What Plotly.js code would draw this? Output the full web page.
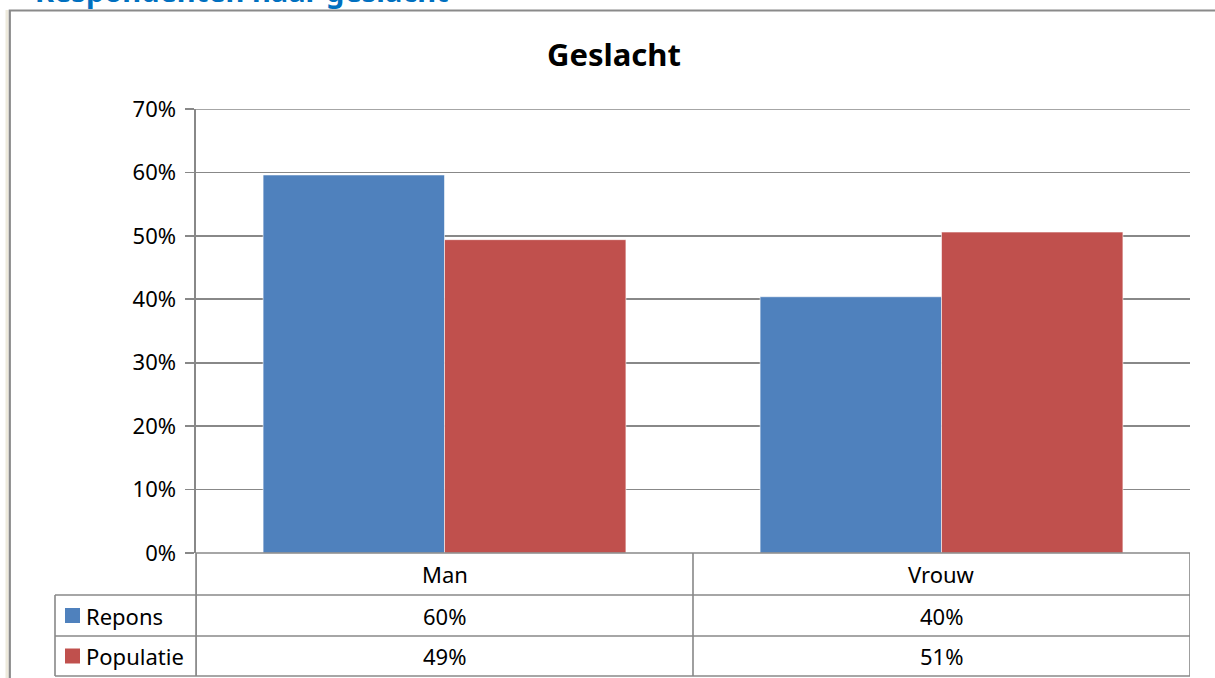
<!DOCTYPE html>
<html><head><meta charset="utf-8">
<script src="https://cdn.plot.ly/plotly-3.0.1.min.js"></script>
<style>html,body{margin:0;padding:0;background:#fff;overflow:hidden;} #chart{width:1215px;height:678px;}</style>
</head><body><div id="chart"></div>
<script>
// ---- data ----
const categories = ['Man', 'Vrouw'];
const seriesNames = ['Repons', 'Populatie'];
const repons = [0.596, 0.404];
const populatie = [0.494, 0.506];
const reponsLabels = ['60%', '40%'];
const populatieLabels = ['49%', '51%'];
const chartTitle = 'Geslacht';
const headingText = 'Respondenten naar geslacht';
const yMax = 0.7;

// ---- styling / geometry ----
const colors = ['#4F81BD', '#C0504D'];
const FONT = 'Noto Sans, sans-serif';
const GRID = '#888888';
const L = 196, R = 1190, T = 109, B = 553;
const px = x => (x - L) / (R - L);
const py = y => (B - y) / (B - T);

const seriesValues = [repons, populatie];
const seriesLabels = [reponsLabels, populatieLabels];
const rowCenters = [615.5, 656];
const rowLines = [595, 636, 676];

const traces = seriesNames.map((name, i) => ({
  type: 'bar', name: name, x: categories, y: seriesValues[i],
  marker: {color: colors[i], line: {color: 'rgba(255,255,255,0.7)', width: 0.8}},
  hoverinfo: 'skip'
}));

const shapes = [];
const line = (x0, y0, x1, y1, extra) => Object.assign({type: 'line', xref: 'paper', yref: 'paper',
  x0: px(x0), x1: px(x1), y0: py(y0), y1: py(y1), line: {color: GRID, width: 1.6}}, extra || {});

// outer frame and page strip
shapes.push({type: 'rect', xref: 'paper', yref: 'paper', x0: px(5.5), x1: px(8.5), y0: py(700), y1: py(10),
  fillcolor: '#EEEADC', line: {width: 0}, layer: 'below'});
shapes.push({type: 'rect', xref: 'paper', yref: 'paper', x0: px(9.8), x1: px(1240), y0: py(720), y1: py(10.5),
  fillcolor: 'rgba(0,0,0,0)', line: {color: '#8a8a8a', width: 2.2}});

// top gridline at axis maximum (Plotly omits the gridline on the plot edge)
shapes.push({type: 'line', xref: 'paper', yref: 'y', x0: 0, x1: 1, y0: yMax, y1: yMax,
  line: {color: GRID, width: 1.6}, layer: 'below'});

// table lines
shapes.push(line(196, B, R, B));
rowLines.forEach(y => shapes.push(line(55, y, R, y)));
shapes.push(line(55, 595, 55, 676));
shapes.push(line(196, B, 196, 676));
for (let i = 0; i <= categories.length; i++) {
  shapes.push({type: 'line', xref: 'x', yref: 'paper', x0: i - 0.5, x1: i - 0.5, y0: py(B), y1: py(676),
    line: {color: GRID, width: 1.6}});
}

// legend keys
rowCenters.forEach((yc, i) => shapes.push({type: 'rect', xref: 'paper', yref: 'paper',
  x0: px(65), x1: px(80), y0: py(yc + 7.5), y1: py(yc - 7.5), fillcolor: colors[i], line: {width: 0}}));

const annotations = [];
const tf = {family: FONT, size: 22, color: '#000'};
categories.forEach((c, j) => {
  annotations.push({xref: 'x', yref: 'paper', x: j, y: py(574), text: c, showarrow: false, font: tf, xanchor: 'center', yanchor: 'middle'});
  seriesLabels.forEach((labs, i) => annotations.push({xref: 'x', yref: 'paper', x: j, y: py(rowCenters[i]),
    text: labs[j], showarrow: false, font: tf, xanchor: 'center', yanchor: 'middle'}));
});
seriesNames.forEach((n, i) => annotations.push({xref: 'paper', yref: 'paper', x: px(84), y: py(rowCenters[i]),
  text: n, showarrow: false, font: tf, xanchor: 'left', yanchor: 'middle'}));
annotations.push({xref: 'paper', yref: 'paper', x: px(33), y: py(12), text: '<b>' + headingText + '</b>',
  showarrow: false, font: {family: FONT, size: 29, color: '#0070C0'}, xanchor: 'left', yanchor: 'bottom'});

const layout = {
  width: 1215, height: 678,
  margin: {l: L, r: 1215 - R, t: T, b: 678 - B, pad: 0},
  paper_bgcolor: '#fff', plot_bgcolor: '#fff',
  showlegend: false,
  barmode: 'group', bargap: 0.27, bargroupgap: 0,
  title: {text: '<b>' + chartTitle + '</b>', font: {family: FONT, size: 31, color: '#000'},
    xref: 'container', yref: 'container', x: 614 / 1215, y: 1 - 55 / 678, xanchor: 'center', yanchor: 'middle'},
  xaxis: {type: 'category', range: [-0.5, categories.length - 0.5], showticklabels: false, showgrid: false,
    zeroline: false, showline: false, ticks: '', fixedrange: true},
  yaxis: {range: [0, yMax], dtick: 0.1, tick0: 0, tickformat: '.0%', showgrid: true, gridcolor: GRID, gridwidth: 1.6,
    zeroline: false, showline: true, linecolor: GRID, linewidth: 1.6, ticks: 'outside', ticklen: 9,
    tickcolor: GRID, tickwidth: 1.6, ticklabelstandoff: 5, tickfont: {family: FONT, size: 22, color: '#000'}, fixedrange: true},
  shapes: shapes, annotations: annotations
};

Plotly.newPlot('chart', traces, layout, {displayModeBar: false, staticPlot: true});
</script>
</body></html>
